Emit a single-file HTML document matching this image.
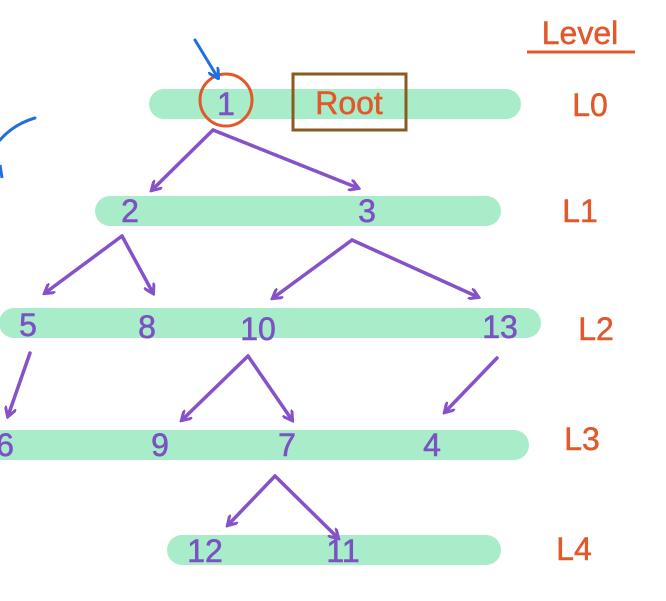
<!DOCTYPE html>
<html><head><meta charset="utf-8"><style>
html,body{margin:0;padding:0;background:#fff;width:666px;height:601px;overflow:hidden}
svg{display:block}
.n{font-family:"Liberation Sans",sans-serif;font-size:32px;fill:#7b52c4;stroke:#7b52c4;stroke-width:0.6;text-anchor:middle}
.l{font-family:"Liberation Sans",sans-serif;font-size:32px;fill:#e2582a;stroke:#e2582a;stroke-width:0.5;text-anchor:middle}
</style></head><body>
<svg width="666" height="601" viewBox="0 0 666 601" xmlns="http://www.w3.org/2000/svg">
<defs>
<marker id="a" markerWidth="12" markerHeight="12" refX="9" refY="6" orient="auto" markerUnits="userSpaceOnUse">
<path d="M0,0 L10,6 L0,12" fill="none" stroke="#8552c9" stroke-width="3"/></marker>
<marker id="b" markerWidth="12" markerHeight="12" refX="10" refY="6" orient="auto" markerUnits="userSpaceOnUse">
<path d="M0,0 L11,6 L0,12" fill="none" stroke="#1f6fe0" stroke-width="3"/></marker>
</defs>
<g stroke="#a9ecc9" stroke-width="30" stroke-linecap="round">
<line x1="164" y1="104" x2="506" y2="104"/>
<line x1="110" y1="211" x2="486" y2="211"/>
<line x1="14" y1="323" x2="526" y2="323"/>
<line x1="0" y1="445" x2="514" y2="445"/>
<line x1="182" y1="550" x2="486" y2="550"/>
</g>
<circle cx="226" cy="100" r="26" fill="none" stroke="#e2582a" stroke-width="3"/>
<rect x="293" y="74" width="113" height="56" fill="none" stroke="#8b5a1e" stroke-width="3"/>
<text x="349" y="114" class="l">Root</text>
<text x="580" y="44" class="l">Level</text>
<line x1="527" y1="52" x2="635" y2="52" stroke="#e2582a" stroke-width="3"/>
<text x="590" y="116" class="l">L0</text>
<text x="580" y="222" class="l">L1</text>
<text x="596" y="340" class="l">L2</text>
<text x="582" y="450" class="l">L3</text>
<text x="574" y="560" class="l">L4</text>
<text x="226" y="115" class="n">1</text>
<text x="130" y="222" class="n">2</text>
<text x="367" y="222" class="n">3</text>
<text x="28" y="336" class="n">5</text>
<text x="147" y="338" class="n">8</text>
<text x="258" y="340" class="n">10</text>
<text x="500" y="338" class="n">13</text>
<text x="5" y="456" class="n">6</text>
<text x="160" y="456" class="n">9</text>
<text x="287" y="456" class="n">7</text>
<text x="432" y="456" class="n">4</text>
<text x="205" y="562" class="n">12</text>
<text x="343" y="562" class="n">11</text>
<g stroke="#8552c9" stroke-width="3.5" fill="none" marker-end="url(#a)" stroke-linecap="round">
<line x1="213" y1="130" x2="152" y2="190"/>
<line x1="213" y1="130" x2="358" y2="188"/>
<line x1="122" y1="236" x2="45" y2="293"/>
<line x1="122" y1="236" x2="153" y2="293"/>
<line x1="352" y1="240" x2="273" y2="298"/>
<line x1="352" y1="240" x2="478" y2="297"/>
<line x1="30" y1="353" x2="8" y2="416"/>
<line x1="248" y1="356" x2="182" y2="420"/>
<line x1="248" y1="356" x2="292" y2="420"/>
<line x1="497" y1="358" x2="445" y2="412"/>
<line x1="275" y1="476" x2="228" y2="525"/>
<line x1="275" y1="476" x2="338" y2="538"/>
</g>
<line x1="195" y1="40" x2="218" y2="78" stroke="#1f6fe0" stroke-width="3" marker-end="url(#b)" stroke-linecap="round"/>
<path d="M0,140 Q14,124 35,118" fill="none" stroke="#1f6fe0" stroke-width="3" stroke-linecap="round"/>
<line x1="0" y1="165" x2="2" y2="178" stroke="#1f6fe0" stroke-width="3"/>
</svg>
</body></html>
